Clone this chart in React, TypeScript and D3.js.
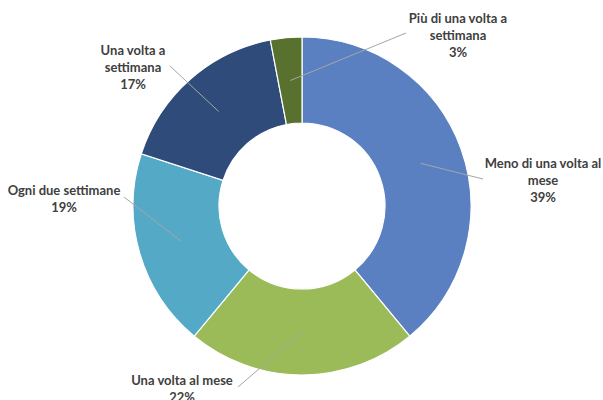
import React from "react";
import * as d3 from "d3";

const categories = [
  "Meno di una volta al mese",
  "Una volta al mese",
  "Ogni due settimane",
  "Una volta a settimana",
  "Più di una volta a settimana",
];
const values = [39, 22, 19, 17, 3];
const colors = ["#5a80c2", "#9bbb59", "#53a9c6", "#2f4b7a", "#58712f"];
const labelLines = [
  ["Meno di una volta al", "mese", "39%"],
  ["Una volta al mese", "22%"],
  ["Ogni due settimane", "19%"],
  ["Una volta a", "settimana", "17%"],
  ["Più di una volta a", "settimana", "3%"],
];
// label anchor (center x, first line y) and leader endpoints
const labelPos = [
  { x: 543, y: 168, lx: 483, ly: 179 },
  { x: 182, y: 385, lx: 238, ly: 387 },
  { x: 64, y: 195, lx: 124, ly: 197 },
  { x: 133, y: 55, lx: 170, ly: 66 },
  { x: 458, y: 23, lx: 406, ly: 33 },
];

export default function App() {
  const W = 603, H = 400;
  const cx = 302, cy = 206, R = 169, r = 83;
  const pie = d3.pie<number>().sort(null).value((d) => d)(values);
  const arc = d3.arc<d3.PieArcDatum<number>>().innerRadius(r).outerRadius(R);
  const lineH = 17;
  return (
    <svg width={W} height={H} style={{ position: "absolute", left: 0, top: 0 }}>
      <rect width={W} height={H} fill="#fff" />
      <g transform={`translate(${cx},${cy})`}>
        {pie.map((p, i) => (
          <path key={i} d={arc(p) || ""} fill={colors[i]} stroke="#fff" strokeWidth={1.2} />
        ))}
      </g>
      {pie.map((p, i) => {
        const [ax, ay] = arc.centroid(p);
        return (
          <line key={"l" + i} x1={cx + ax} y1={cy + ay} x2={labelPos[i].lx} y2={labelPos[i].ly} stroke="#a6a6a6" strokeWidth={1} />
        );
      })}
      {labelLines.map((lines, i) => (
        <text key={"t" + i} x={labelPos[i].x} y={labelPos[i].y} textAnchor="middle"
          fontFamily="Lato, sans-serif" fontWeight="bold" fontSize={13} fill="#404040">
          {lines.map((s, j) => (
            <tspan key={j} x={labelPos[i].x} y={labelPos[i].y + j * lineH}>{s}</tspan>
          ))}
        </text>
      ))}
    </svg>
  );
}
